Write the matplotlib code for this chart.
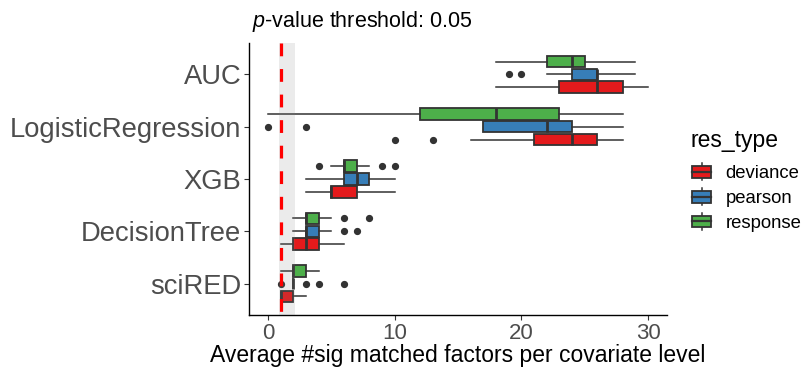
import matplotlib
matplotlib.use("Agg")
import matplotlib.pyplot as plt
from matplotlib.patches import Rectangle
from matplotlib.lines import Line2D
from matplotlib.legend_handler import HandlerBase

plt.rcParams['font.family'] = ['Liberation Sans', 'DejaVu Sans']
plt.rcParams['mathtext.fontset'] = 'custom'
plt.rcParams['mathtext.it'] = 'Liberation Sans:italic'
plt.rcParams['mathtext.rm'] = 'Liberation Sans'

# Models, top to bottom
models = ["AUC", "LogisticRegression", "XGB", "DecisionTree", "sciRED"]
res_types = ["deviance", "pearson", "response"]
palette = ["#E41A1C", "#377EB8", "#4DAF4A"]

# Per-model box summaries: [lower whisker, Q1, median, Q3, upper whisker]
deviance_stats = [[18, 23, 26, 28, 30], [16, 21, 24, 26, 28], [3, 5, 5, 7, 10],
                  [1, 2, 3, 4, 6], [1, 1, 1, 2, 3]]
deviance_fliers = [[], [10, 13], [], [], []]

pearson_stats = [[22, 24, 26, 26, 29], [17, 17, 22, 24, 28], [3, 6, 7, 8, 10],
                 [2, 3, 3, 4, 5], [2, 2, 2, 2, 2]]
pearson_fliers = [[19, 20], [0, 3], [], [6, 7], [1, 3, 4, 6]]

response_stats = [[18, 22, 24, 25, 29], [0, 12, 18, 23, 28], [5, 6, 6, 7, 8],
                  [2, 3, 3, 4, 5], [1, 2, 2, 3, 4]]
response_fliers = [[], [], [4, 9, 10], [6, 8], []]

threshold = 1.0
band_lo, band_hi = 0.85, 2.1

EDGE = "#333333"
W, H = 806, 372

fig = plt.figure(figsize=(W / 100, H / 100), dpi=100)
ax = fig.add_axes([249 / W, (H - 315) / H, (667 - 249) / W, (315 - 43) / H])

all_stats = [deviance_stats, pearson_stats, response_stats]
all_fliers = [deviance_fliers, pearson_fliers, response_fliers]
offsets = [-0.245, 0.0, 0.245]
n = len(models)

for stats, fliers, off, col, lab in zip(all_stats, all_fliers, offsets, palette, res_types):
    bxp_stats = []
    pos = []
    for i, (s, f) in enumerate(zip(stats, fliers)):
        bxp_stats.append(dict(whislo=s[0], q1=s[1], med=s[2], q3=s[3], whishi=s[4],
                              fliers=f, label=models[i]))
        pos.append(n - i + off)
    ax.bxp(bxp_stats, positions=pos, widths=0.22, orientation='horizontal',
           patch_artist=True, showcaps=False, manage_ticks=False,
           boxprops=dict(facecolor=col, edgecolor=EDGE, linewidth=1.3),
           medianprops=dict(color=EDGE, linewidth=2.0, solid_capstyle='butt'),
           whiskerprops=dict(color=EDGE, linewidth=1.1),
           flierprops=dict(marker='o', markerfacecolor=EDGE, markeredgecolor=EDGE,
                           markersize=4.2, linestyle='none'))

ax.axvspan(band_lo, band_hi, color='#7F7F7F', alpha=0.15, lw=0, zorder=3)
ax.axvline(threshold, ymin=1, ymax=0, color='#FF0000', lw=2.3, dashes=(4, 4), zorder=4)

ax.set_xlim(-1.5, 31.5)
ax.set_ylim(0.4, n + 0.6)
ax.set_xticks([0, 10, 20, 30])
ax.set_yticks([n - i for i in range(n)])
ax.set_yticklabels(models)
ax.tick_params(axis='y', labelsize=19.7, colors=EDGE, labelcolor='#4D4D4D', length=3.5, width=0.8, pad=2)
ax.tick_params(axis='x', labelsize=16, colors=EDGE, labelcolor='#4D4D4D', length=3.5, width=0.8, pad=2)
for side in ('top', 'right'):
    ax.spines[side].set_visible(False)
for side in ('left', 'bottom'):
    ax.spines[side].set_color('black')
    ax.spines[side].set_linewidth(1.0)

ax.set_xlabel("Average #sig matched factors per covariate level", fontsize=16.5, color='black', labelpad=0)
fig.text(252 / W, 1 - 27 / H, r"$p$-value threshold: 0.05", fontsize=15.5, ha='left', va='baseline')


class BoxKey(HandlerBase):
    def create_artists(self, legend, orig_handle, xdescent, ydescent, width, height, fontsize, trans):
        fc = orig_handle.get_facecolor()
        x0, y0 = -xdescent, -ydescent
        cx = x0 + width / 2
        bh = height * 0.7
        whisker = Line2D([cx, cx], [y0, y0 + height], color=EDGE, lw=1.1, transform=trans)
        box = Rectangle((x0, y0 + (height - bh) / 2), width, bh, facecolor=fc,
                        edgecolor=EDGE, lw=1.3, transform=trans)
        med = Line2D([x0, x0 + width], [y0 + height / 2] * 2, color=EDGE, lw=1.6, transform=trans)
        return [whisker, box, med]


fig.text(690.5 / W, 1 - 146.5 / H, "res_type", fontsize=16.5, ha='left', va='baseline')
handles = [Rectangle((0, 0), 1, 1, facecolor=c) for c in palette]
leg = fig.legend(handles, res_types, handler_map={Rectangle: BoxKey()},
                 loc='upper left', bbox_to_anchor=(692 / W, 1 - 163 / H),
                 frameon=False, fontsize=13.3,
                 handlelength=1.05, handleheight=1.05, labelspacing=0.33,
                 handletextpad=0.76, borderpad=0, borderaxespad=0, alignment='left')

fig.savefig("out.png", dpi=100)
